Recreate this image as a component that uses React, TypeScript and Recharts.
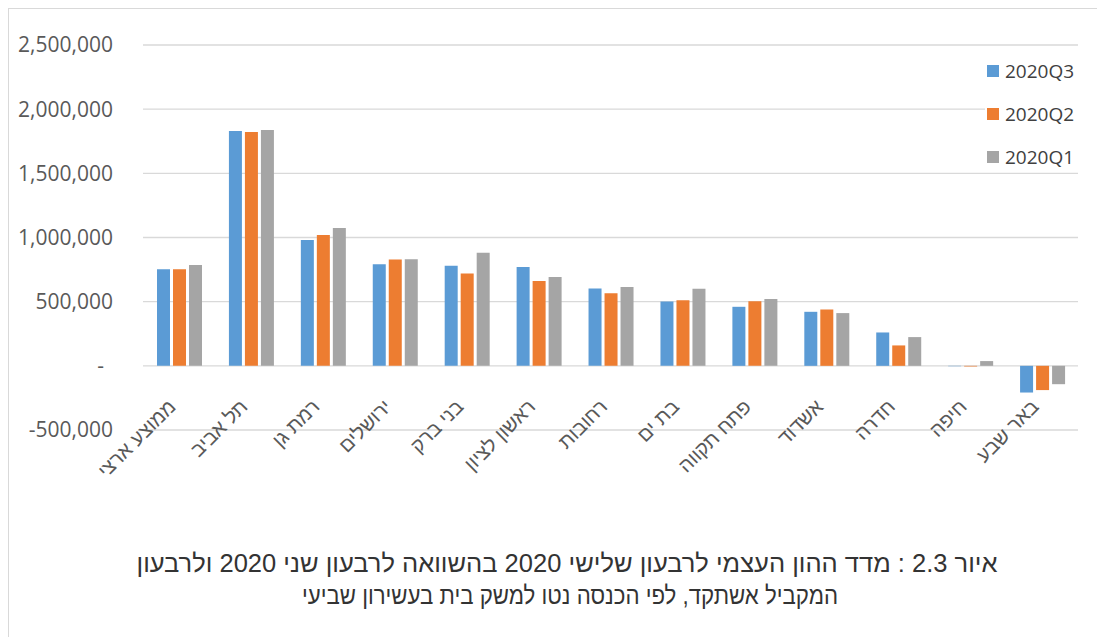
import { BarChart, Bar, XAxis, YAxis, CartesianGrid } from "recharts";

const categories = [
  "ממוצע ארצי",
  "תל אביב",
  "רמת גן",
  "ירושלים",
  "בני ברק",
  "ראשון לציון",
  "רחובות",
  "בת ים",
  "פתח תקווה",
  "אשדוד",
  "חדרה",
  "חיפה",
  "באר שבע",
];

const q3 = [753000, 1830000, 981000, 792000, 779000, 771000, 603000, 502000, 460000, 421000, 260000, -3000, -208000];
const q2 = [753000, 1822000, 1020000, 828000, 719000, 662000, 566000, 512000, 504000, 439000, 159000, -5000, -189000];
const q1 = [786000, 1838000, 1075000, 831000, 882000, 693000, 615000, 600000, 520000, 411000, 224000, 37000, -143000];

const yTicks = [-500000, 0, 500000, 1000000, 1500000, 2000000, 2500000];

const titleLine1 = "איור 2.3 : מדד ההון העצמי לרבעון שלישי 2020 בהשוואה לרבעון שני 2020 ולרבעון";
const titleLine2 = "המקביל אשתקד, לפי הכנסה נטו למשק בית בעשירון שביעי";

const series = [
  { key: "q3", name: "2020Q3", color: "#5B9BD5" },
  { key: "q2", name: "2020Q2", color: "#ED7D31" },
  { key: "q1", name: "2020Q1", color: "#A5A5A5" },
];

const chartData = categories.map((name, i) => ({ name, q3: q3[i], q2: q2[i], q1: q1[i] }));

const NUM_FONT = "'Open Sans', 'Noto Sans', sans-serif";
const HEB_FONT = "'Liberation Sans', 'DejaVu Sans', sans-serif";

const YTick = ({ x, y, payload }: any) => {
  const v = payload.value as number;
  if (v === 0) {
    return (
      <text x={x - 9} y={y} dy="0.35em" textAnchor="end" fill="#595959" fontSize={21} fontFamily={NUM_FONT}>
        -
      </text>
    );
  }
  return (
    <text x={x} y={y} dy="0.35em" textAnchor="end" fill="#595959" fontSize={21} fontFamily={NUM_FONT}>
      {v.toLocaleString("en-US")}
    </text>
  );
};

// labels sit next to the zero line, like Excel, not at the bottom of the plot
const XTick = ({ x, y, payload }: any) => (
  <g transform={`translate(${x - 2},${y - 22})`}>
    <text transform="rotate(-45)" textAnchor="end" fill="#595959" fontSize={20} fontFamily={HEB_FONT}>
      {payload.value}
    </text>
  </g>
);

export default function App() {
  return (
    <div
      style={{
        position: "relative",
        width: 1105,
        height: 637,
        marginLeft: -8,
        marginTop: -8,
        overflow: "hidden",
        background: "#fff",
      }}
    >
      <div
        style={{
          position: "absolute",
          left: 7,
          top: 7,
          width: 1200,
          height: 800,
          borderLeft: "2px solid #D9D9D9",
          borderTop: "2px solid #D9D9D9",
        }}
      />
      <div style={{ position: "absolute", left: 0, top: 0 }}>
        <BarChart
          width={1105}
          height={520}
          data={chartData}
          margin={{ top: 45, right: 27, left: 0, bottom: 0 }}
          barCategoryGap={14}
          barGap={3}
        >
          <CartesianGrid vertical={false} stroke="#D9D9D9" strokeWidth={1.3} />
          <XAxis
            dataKey="name"
            interval={0}
            height={90}
            axisLine={false}
            tickLine={false}
            tickSize={0}
            tickMargin={0}
            tick={<XTick />}
          />
          <YAxis
            width={143}
            domain={[-500000, 2500000]}
            ticks={yTicks}
            interval={0}
            axisLine={false}
            tickLine={false}
            tickSize={0}
            tickMargin={30}
            tick={<YTick />}
          />
          {series.map((s) => (
            <Bar key={s.key} dataKey={s.key} name={s.name} fill={s.color} isAnimationActive={false} />
          ))}
        </BarChart>
      </div>
      {/* legend box, white background hides the gridline behind it */}
      <div style={{ position: "absolute", left: 985, top: 56, width: 93, background: "#fff" }}>
        {series.map((s, i) => (
          <div
            key={s.key}
            style={{
              display: "flex",
              alignItems: "center",
              height: 30,
              marginBottom: i < series.length - 1 ? 13 : 0,
              paddingLeft: 2,
            }}
          >
            <span style={{ width: 12, height: 12, background: s.color, display: "inline-block", marginRight: 6 }} />
            <span style={{ fontFamily: NUM_FONT, fontSize: 19, color: "#404040" }}>{s.name}</span>
          </div>
        ))}
      </div>
      <svg width={1105} height={100} style={{ position: "absolute", left: 0, top: 530 }}>
        <text
          x={567}
          y={42}
          textAnchor="middle"
          direction="rtl"
          fontSize={25}
          fontFamily={HEB_FONT}
          fill="#333"
          textLength={861}
          lengthAdjust="spacingAndGlyphs"
        >
          {titleLine1}
        </text>
        <text
          x={570}
          y={74}
          textAnchor="middle"
          direction="rtl"
          fontSize={25}
          fontFamily={HEB_FONT}
          fill="#333"
          textLength={536}
          lengthAdjust="spacingAndGlyphs"
        >
          {titleLine2}
        </text>
      </svg>
    </div>
  );
}
